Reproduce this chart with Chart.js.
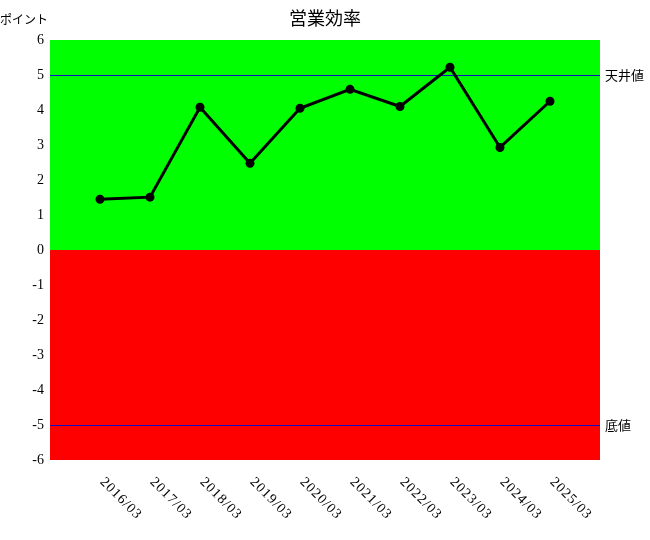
<!DOCTYPE html>
<html>
<head>
<meta charset="utf-8">
<script src="https://cdn.jsdelivr.net/npm/chart.js@4"></script>
<style>
  body { margin: 0; background: #fff; }
  #wrap { width: 650px; height: 540px; }
</style>
</head>
<body>
<div id="wrap"><canvas id="effChart" width="650" height="540"></canvas></div>
<script>
// data
const periods = ['2016/03','2017/03','2018/03','2019/03','2020/03','2021/03','2022/03','2023/03','2024/03','2025/03'];
const scores = [1.45, 1.51, 4.08, 2.48, 4.05, 4.59, 4.10, 5.22, 2.93, 4.25];
const ceilingValue = 5;
const floorValue = -5;
const yTicks = [-6,-5,-4,-3,-2,-1,0,1,2,3,4,5,6];

const serif = '"Liberation Serif", "DejaVu Serif", serif';
const cjk = '"Noto Sans CJK JP", "Noto Sans", sans-serif';

// green above zero, red below, plus the two limit lines and side labels
const bandsPlugin = {
  id: 'bands',
  beforeDatasetsDraw(chart) {
    const { ctx, chartArea: a, scales: { y } } = chart;
    const zero = y.getPixelForValue(0);
    ctx.save();
    ctx.fillStyle = '#00ff00';
    ctx.fillRect(a.left, a.top, a.right - a.left, zero - a.top);
    ctx.fillStyle = '#ff0000';
    ctx.fillRect(a.left, zero, a.right - a.left, a.bottom - zero);

    ctx.strokeStyle = '#1010c0';
    ctx.lineWidth = 1;
    [[ceilingValue, '天井値'], [floorValue, '底値']].forEach(([v, label]) => {
      const py = Math.round(y.getPixelForValue(v)) + 0.5;
      ctx.beginPath();
      ctx.moveTo(a.left, py);
      ctx.lineTo(a.right, py);
      ctx.stroke();
      ctx.fillStyle = '#000';
      ctx.font = '13px ' + cjk;
      ctx.textAlign = 'left';
      ctx.textBaseline = 'middle';
      ctx.fillText(label, a.right + 5, py);
    });
    ctx.restore();
  },
  afterDraw(chart) {
    const { ctx, chartArea: a, scales: { x } } = chart;
    ctx.save();
    ctx.fillStyle = '#000';
    ctx.font = '18px ' + cjk;
    ctx.textAlign = 'center';
    ctx.textBaseline = 'middle';
    ctx.fillText('営業効率', 325, 18);
    ctx.font = '12px ' + cjk;
    ctx.textAlign = 'left';
    ctx.fillText('ポイント', 0, 19);

    // slanted period labels, hanging down-right from each point
    ctx.font = '14px ' + serif;
    ctx.letterSpacing = '1px';
    ctx.textBaseline = 'top';
    periods.forEach((p, i) => {
      const px = x.getPixelForValue(i);
      ctx.save();
      ctx.translate(px + 7, a.bottom + 15);
      ctx.rotate(Math.PI / 4);
      ctx.fillText(p, 0, 0);
      ctx.restore();
    });
    ctx.restore();
  }
};

new Chart(document.getElementById('effChart'), {
  type: 'line',
  data: {
    datasets: [{
      label: '営業効率',
      data: scores.map((v, i) => ({ x: i, y: v })),
      borderColor: '#000',
      backgroundColor: '#000',
      borderWidth: 3,
      pointStyle: 'circle',
      pointRadius: 4.5,
      pointBorderWidth: 0,
      tension: 0
    }]
  },
  options: {
    responsive: false,
    animation: false,
    layout: { padding: { top: 40, right: 50, left: 0, bottom: 0 } },
    plugins: { legend: { display: false }, title: { display: false }, tooltip: { enabled: false } },
    scales: {
      x: {
        type: 'linear', min: -1, max: periods.length,
        grid: { display: false, drawTicks: false },
        border: { display: false },
        ticks: { display: false },
        afterFit: s => { s.height = 80; }
      },
      y: {
        min: -6, max: 6,
        grid: { display: false, drawTicks: false },
        border: { display: false },
        afterBuildTicks: s => { s.ticks = yTicks.map(v => ({ value: v })); },
        ticks: { color: '#000', padding: 6, font: { family: serif, size: 14 } },
        afterFit: s => { s.width = 50; }
      }
    }
  },
  plugins: [bandsPlugin]
});
</script>
</body>
</html>
